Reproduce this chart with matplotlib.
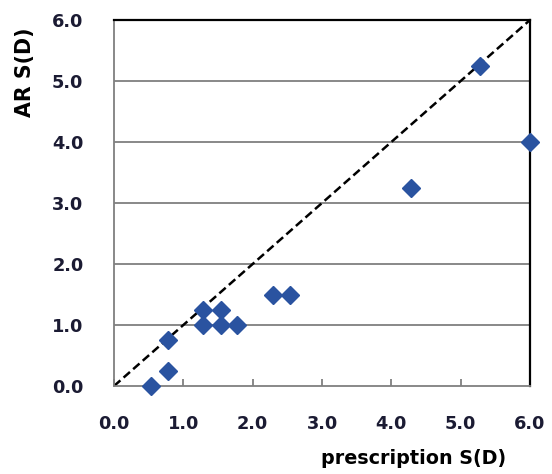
import matplotlib
matplotlib.use("Agg")
import matplotlib.pyplot as plt

prescription = [0.53, 0.78, 0.78, 1.28, 1.28, 1.54, 1.54, 1.77, 2.29, 2.54, 4.28, 5.28, 6.0]
ar = [0.0, 0.25, 0.75, 1.25, 1.0, 1.25, 1.0, 1.0, 1.5, 1.5, 3.25, 5.25, 4.0]
ticks = [0.0, 1.0, 2.0, 3.0, 4.0, 5.0, 6.0]
tick_labels = ["0.0", "1.0", "2.0", "3.0", "4.0", "5.0", "6.0"]

plt.rcParams['font.family'] = ['DejaVu Sans']

fig = plt.figure(figsize=(5.52, 4.74), dpi=100)
ax = fig.add_axes([114/552, 1-386/474, (530-114)/552, (386-20)/474])

ax.set_xlim(0, 6)
ax.set_ylim(0, 6)

for y in ticks[1:-1]:
    ax.axhline(y, color='#7f7f7f', lw=1.3, zorder=1)

ax.plot([0, 6], [0, 6], color='black', lw=1.8, dashes=(3.4, 1.7), zorder=2)
ax.plot(prescription, ar, linestyle='none', marker='D', markersize=9.4,
        color='#2a53a0', markeredgecolor='#2a53a0', zorder=3, clip_on=False)

for side in ['left', 'bottom']:
    ax.spines[side].set_color('#7f7f7f')
    ax.spines[side].set_linewidth(1.3)
for side in ['top', 'right']:
    ax.spines[side].set_color('black')
    ax.spines[side].set_linewidth(1.6)

ax.set_xticks(ticks)
ax.set_xticklabels(tick_labels)
ax.set_yticks(ticks)
ax.set_yticklabels(tick_labels)
ax.tick_params(axis='x', direction='in', length=5, width=1.3, color='#7f7f7f',
               pad=21, labelsize=12.8, labelcolor='#1b1b33')
ax.tick_params(axis='y', length=0, pad=22, labelsize=12.8, labelcolor='#1b1b33')
for lab in ax.get_xticklabels() + ax.get_yticklabels():
    lab.set_fontweight('bold')

fig.text(414/552, 1-458/474, 'prescription S(D)', ha='center', va='center',
         fontsize=13.8, fontweight='bold', color='black')
fig.text(25/552, 1-72/474, 'AR S(D)', ha='center', va='center', rotation=90,
         fontsize=14.8, fontweight='bold', color='black')

fig.savefig('out.png', dpi=100)
